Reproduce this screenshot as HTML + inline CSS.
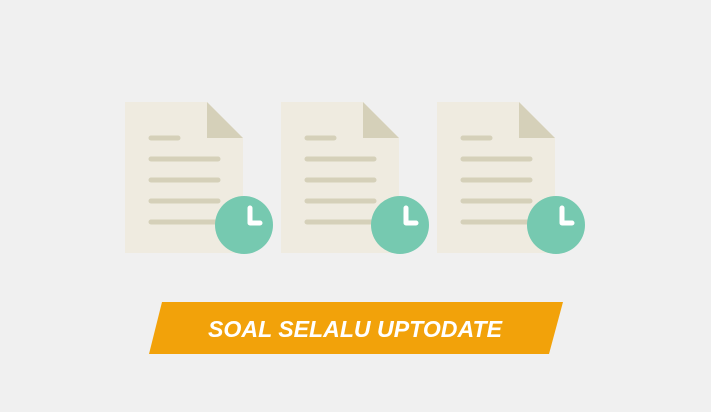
<!DOCTYPE html>
<html><head><style>body{margin:0;background:#f0f0f0}</style></head><body>
<svg width="711" height="407" viewBox="0 0 711 407" xmlns="http://www.w3.org/2000/svg">
<rect width="711" height="407" fill="#f0f0f0"/>
<defs>
<g id="doc">
<path d="M0 0 H82 L118 36 V151 H0 Z" fill="#efebe0"/>
<path d="M82 0 L118 36 H82 Z" fill="#d5d0b9"/>
<g stroke="#d5d0b9" stroke-width="5" stroke-linecap="round">
<line x1="26" y1="36" x2="53" y2="36"/>
<line x1="26" y1="57" x2="93" y2="57"/>
<line x1="26" y1="78" x2="93" y2="78"/>
<line x1="26" y1="99" x2="93" y2="99"/>
<line x1="26" y1="120" x2="93" y2="120"/>
</g>
<circle cx="119" cy="123" r="29" fill="#76c9b0"/>
<path d="M125 106 V121 H135" fill="none" stroke="#fff" stroke-width="5" stroke-linecap="round" stroke-linejoin="round"/>
</g>
</defs>
<use href="#doc" x="125" y="102"/>
<use href="#doc" x="281" y="102"/>
<use href="#doc" x="437" y="102"/>
<polygon points="162,302 563,302 549,354 149,354" fill="#f2a20a"/>
<text x="208" y="337" textLength="294" lengthAdjust="spacingAndGlyphs" font-family="Liberation Sans, sans-serif" font-weight="bold" font-style="italic" font-size="23" fill="#fff">SOAL SELALU UPTODATE</text>
</svg>
</body></html>
